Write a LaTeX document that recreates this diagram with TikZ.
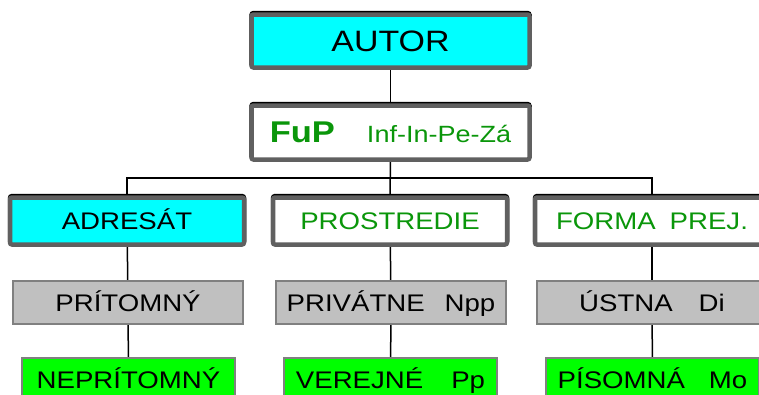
\documentclass[tikz,border=0pt]{standalone}
\usepackage{fontspec}
\setmainfont{Liberation Sans}[FakeStretch=1.15]
\usetikzlibrary{backgrounds}
\definecolor{cyanbox}{RGB}{0,255,255}
\definecolor{greenbox}{RGB}{0,255,0}
\definecolor{graybox}{RGB}{192,192,192}
\definecolor{borderdark}{RGB}{96,96,96}
\definecolor{bordergray}{RGB}{128,128,128}
\definecolor{greentext}{RGB}{10,150,10}
\tikzset{
  thickbox/.style={draw=borderdark, line width=4.5pt, rounded corners=2pt,
    inner sep=0pt, text depth=0pt,
    preaction={draw=black, line width=4.5pt, transform canvas={yshift=1.4pt}}},
  mainbox/.style={thickbox, fill=cyanbox, minimum width=#1, minimum height=47pt},
  subbox/.style={thickbox, fill=white, minimum width=#1, minimum height=47pt},
  thinbox/.style={draw=bordergray, line width=1.5pt, inner sep=0pt, text depth=0pt,
    minimum width=#1, minimum height=43pt},
  graynode/.style={thinbox=230pt, fill=graybox},
  greennode/.style={thinbox=213pt, fill=greenbox},
  conn/.style={draw=black, line width=1.5pt},
  midfont/.style={font=\fontsize{24pt}{26pt}\selectfont, text height=17.2pt},
}
\begin{document}
\begin{tikzpicture}[x=1pt,y=-1pt]
\useasboundingbox (0,0) rectangle (759,394);
\clip (0,0) rectangle (759,394);
% top
\node[mainbox=278pt, minimum height=53pt, font=\fontsize{29.5pt}{32pt}\selectfont, text height=21.1pt] (autor) at (390.5,41) {AUTOR};
\node[subbox=278pt, minimum height=54pt, text height=20.5pt] (fup) at (390.5,132.5)
  {\color{greentext}\fontsize{30pt}{33pt}\selectfont\bfseries FuP\hspace{32pt}\fontsize{23.5pt}{26pt}\mdseries Inf-In-Pe-Zá};
% second row
\node[mainbox=234pt, midfont] (adr) at (127,221) {ADRESÁT};
\node[subbox=234pt, midfont, text=greentext] (prost) at (390,221) {PROSTREDIE};
\node[subbox=234pt, midfont, text=greentext] (forma) at (652,221) {FORMA\hspace{14pt}PREJ.};
% third row
\node[graynode, midfont] (prit) at (128,302.5) {PRÍTOMNÝ};
\node[graynode, midfont] (priv) at (391,302.5) {PRIVÁTNE\hspace{20pt}Npp};
\node[graynode, midfont] (ustna) at (652,302.5) {ÚSTNA\hspace{26pt}Di};
% fourth row
\node[greennode, midfont] (neprit) at (128.5,379.5) {NEPRÍTOMNÝ};
\node[greennode, midfont] (verej) at (390.5,379.5) {VEREJNÉ\hspace{28pt}Pp};
\node[greennode, midfont] (pisom) at (652.5,379.5) {PÍSOMNÁ\hspace{24pt}Mo};
\coordinate (bus) at (390,178);
\begin{pgfonlayer}{background}
\draw[conn] (autor) -- (fup);
\draw[conn] (fup) -- (prost);
\draw[conn] (adr.center) -- (adr.center |- bus) -- (forma.center |- bus) -- (forma.center);
\draw[conn] (adr) -- (prit);
\draw[conn] (prit) -- (neprit);
\draw[conn] (prost) -- (priv);
\draw[conn] (priv) -- (verej);
\draw[conn] (forma) -- (ustna);
\draw[conn] (ustna) -- (pisom);
\end{pgfonlayer}
\end{tikzpicture}
\end{document}
